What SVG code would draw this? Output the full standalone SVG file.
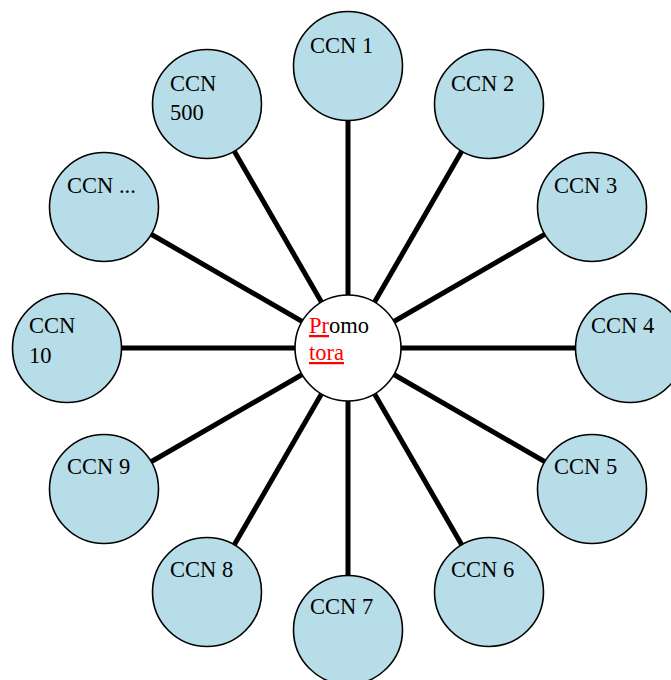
<svg xmlns="http://www.w3.org/2000/svg" width="671" height="680" viewBox="0 0 671 680">
<style>
.n{fill:#b7dee8;stroke:#000;stroke-width:1.6}
.c{fill:#fff;stroke:#000;stroke-width:1.6}
.t{font-family:"Liberation Serif","Times New Roman",serif;font-size:22.5px;fill:#000}
.r{fill:#ff0000;text-decoration:underline}
#connectors line{stroke:#000;stroke-width:5}
</style>
<rect width="671" height="680" fill="#fff"/>
<g id="connectors">
<line x1="348" y1="348" x2="348" y2="66"/>
<line x1="348" y1="348" x2="489" y2="104"/>
<line x1="348" y1="348" x2="592" y2="207"/>
<line x1="348" y1="348" x2="630" y2="348"/>
<line x1="348" y1="348" x2="592" y2="489"/>
<line x1="348" y1="348" x2="489" y2="592"/>
<line x1="348" y1="348" x2="348" y2="630"/>
<line x1="348" y1="348" x2="207" y2="592"/>
<line x1="348" y1="348" x2="104" y2="489"/>
<line x1="348" y1="348" x2="66" y2="348"/>
<line x1="348" y1="348" x2="104" y2="207"/>
<line x1="348" y1="348" x2="207" y2="104"/>
</g>
<g id="ccn1"><circle class="n" cx="348" cy="66" r="54.5"/><text class="t" x="310" y="53">CCN 1</text></g>
<g id="ccn2"><circle class="n" cx="489" cy="104" r="54.5"/><text class="t" x="451" y="91">CCN 2</text></g>
<g id="ccn3"><circle class="n" cx="592" cy="207" r="54.5"/><text class="t" x="554" y="193">CCN 3</text></g>
<g id="ccn4"><circle class="n" cx="630" cy="348" r="54.5"/><text class="t" x="591" y="333">CCN 4</text></g>
<g id="ccn5"><circle class="n" cx="592" cy="489" r="54.5"/><text class="t" x="554" y="474">CCN 5</text></g>
<g id="ccn6"><circle class="n" cx="489" cy="592" r="54.5"/><text class="t" x="451" y="577">CCN 6</text></g>
<g id="ccn7"><circle class="n" cx="348" cy="630" r="54.5"/><text class="t" x="310" y="614">CCN 7</text></g>
<g id="ccn8"><circle class="n" cx="207" cy="592" r="54.5"/><text class="t" x="170" y="577">CCN 8</text></g>
<g id="ccn9"><circle class="n" cx="104" cy="489" r="54.5"/><text class="t" x="67" y="474">CCN 9</text></g>
<g id="ccn10"><circle class="n" cx="67" cy="348" r="54.5"/><text class="t" x="29" y="333">CCN</text><text class="t" x="29" y="363">10</text></g>
<g id="ccnetc"><circle class="n" cx="104" cy="207" r="54.5"/><text class="t" x="67" y="193">CCN ...</text></g>
<g id="ccn500"><circle class="n" cx="207" cy="104" r="54.5"/><text class="t" x="170" y="91">CCN</text><text class="t" x="170" y="120">500</text></g>
<g id="promotora"><circle class="c" cx="348" cy="348" r="53"/><text class="t" x="309" y="333"><tspan class="r">Pr</tspan>omo</text><text class="t" x="309" y="360"><tspan class="r">tora</tspan></text></g>
</svg>
